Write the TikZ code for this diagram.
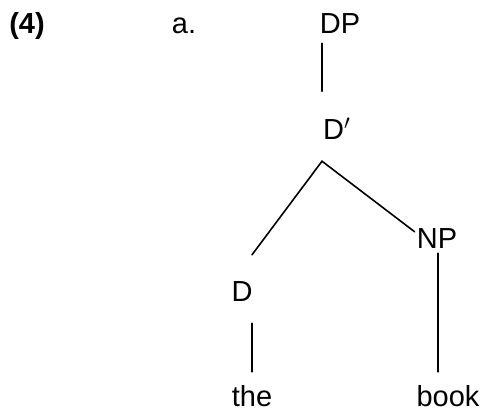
\documentclass[tikz,border=0pt]{standalone}
\usepackage{fontspec}
\setmainfont{Liberation Sans}
\usepackage{tikz}
\usetikzlibrary{positioning,calc}

\begin{document}
\begin{tikzpicture}[
    x=1pt, y=-1pt,
    label/.style={inner sep=0pt, anchor=base, text height=21pt, text depth=0pt, font=\fontsize{29}{33}\selectfont},
    cat/.style={label},
    word/.style={label},
    branch/.style={line width=1.6pt, line cap=round}
]
    \useasboundingbox (0,0) rectangle (486,413);

    \node[label, font=\fontsize{29}{33}\selectfont\bfseries] (ex) at (27,33) {(4)};
    \node[label] (sub) at (184,33) {a.};

    \node[cat] (dp) at (340,33) {DP};
    \node[cat, anchor=base west] (dbar) at (323,139) {D$'$};
    \node[cat] (d) at (242,301) {D};
    \node[cat] (np) at (437,248) {NP};
    \node[word] (the) at (252,406) {the};
    \node[word] (book) at (448,406) {book};

    \draw[branch] ([xshift=-18pt,yshift=-10pt]dp.south) -- ([xshift=-1pt,yshift=48pt]dbar.south west);
    \draw[branch] ([xshift=10pt,yshift=25pt]d.north) -- ([xshift=-1pt,yshift=-22pt]dbar.south west)
        -- ([xshift=-2pt,yshift=-5pt]np.north west);
    \draw[branch] ([xshift=10pt,yshift=-22pt]d.south) -- ([yshift=13pt]the.north);
    \draw[branch] ([xshift=1pt,yshift=-5pt]np.south) -- ([xshift=-10pt,yshift=13pt]book.north);
\end{tikzpicture}
\end{document}
